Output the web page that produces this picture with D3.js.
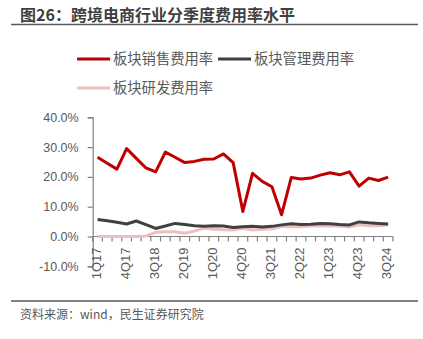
<!DOCTYPE html>
<html><head><meta charset="utf-8">
<script src="https://cdn.jsdelivr.net/npm/d3@7/dist/d3.min.js"></script>
<style>
html,body{margin:0;padding:0;background:#fff;}
svg{display:block;}
</style></head>
<body>
<svg id="chart" width="423" height="339"></svg>
<script>
const quarters = ["1Q17","2Q17","3Q17","4Q17","1Q18","2Q18","3Q18","4Q18","1Q19","2Q19","3Q19","4Q19",
  "1Q20","2Q20","3Q20","4Q20","1Q21","2Q21","3Q21","4Q21","1Q22","2Q22","3Q22","4Q22",
  "1Q23","2Q23","3Q23","4Q23","1Q24","2Q24","3Q24"];
const salesRate = [26.6,24.6,22.6,29.5,26.2,23.0,21.7,28.3,26.6,24.8,25.2,25.9,
  26.0,27.7,24.8,8.4,21.2,18.5,16.7,7.3,19.8,19.3,19.6,20.6,21.4,20.7,21.7,16.9,19.6,18.8,19.9];
const mgmtRate = [5.7,5.3,4.8,4.2,5.2,4.0,2.7,3.5,4.4,4.0,3.6,3.4,
  3.6,3.5,3.0,3.3,3.4,3.2,3.4,3.9,4.3,4.0,4.1,4.4,4.3,4.0,3.9,4.9,4.6,4.4,4.2];
const rdRate = [0,0,0,0,0,0.2,1.4,1.6,1.6,1.1,1.8,2.8,
  2.4,2.3,2.2,2.8,2.2,2.4,2.5,3.4,3.3,3.3,3.5,3.6,3.5,3.4,3.2,3.9,3.6,3.6,3.9];
const yTicks = [-10,0,10,20,30,40];
const xTickLabels = ["1Q17","4Q17","3Q18","2Q19","1Q20","4Q20","3Q21","2Q22","1Q23","4Q23","3Q24"];
const seriesNames = ["板块销售费用率","板块管理费用率","板块研发费用率"];
const titleText = "图26：跨境电商行业分季度费用率水平";
const sourceText = "资料来源：wind，民生证券研究院";

const colors = ["#C00000","#404040","#EDBFC1"];
const series = [
  {name: seriesNames[0], values: salesRate, color: colors[0]},
  {name: seriesNames[1], values: mgmtRate, color: colors[1]},
  {name: seriesNames[2], values: rdRate, color: colors[2]}
];

const svg = d3.select("#chart");
const font = "'Liberation Sans', Arial, 'Noto Sans CJK SC', sans-serif";
const cjk = "'Noto Sans CJK SC', sans-serif";

// title
svg.append("text").attr("x", 20).attr("y", 21)
  .attr("font-family", cjk).attr("font-weight", "bold").attr("font-size", 16)
  .attr("fill", "#3f3f3f").text(titleText);
svg.append("line").attr("x1", 11).attr("x2", 418).attr("y1", 24.5).attr("y2", 24.5)
  .attr("stroke", "#595959").attr("stroke-width", 1.3);

// bottom line and source
svg.append("line").attr("x1", 11).attr("x2", 418).attr("y1", 301).attr("y2", 301)
  .attr("stroke", "#595959").attr("stroke-width", 1.3);
svg.append("text").attr("x", 20).attr("y", 319)
  .attr("font-family", cjk).attr("font-size", 12)
  .attr("fill", "#595959").text(sourceText);

// scales
const x = d3.scaleBand().domain(quarters).range([92.7, 393]);
const y = d3.scaleLinear().domain([-10, 40]).range([266.3, 117.3]);
const cx = q => x(q) + x.bandwidth() / 2;

// y axis
const yAxis = d3.axisLeft(y).tickValues(yTicks).tickSize(5).tickFormat(d => d.toFixed(1) + "%");
const gy = svg.append("g").attr("transform", "translate(92.7,0)").call(yAxis);
gy.select(".domain").attr("stroke", "#7f7f7f").attr("stroke-width", 1.2);
gy.selectAll(".tick line").attr("stroke", "#7f7f7f").attr("stroke-width", 1.2);
gy.selectAll(".tick text").attr("x", -14).attr("font-family", font).attr("font-size", 12.5)
  .attr("fill", "#595959");

// x axis at zero line: ticks between categories
const xb = d3.scaleLinear().domain([0, quarters.length]).range([92.7, 393]);
const gx = svg.append("g").attr("transform", `translate(0,${y(0)})`);
gx.append("line").attr("x1", 92.7).attr("x2", 393).attr("stroke", "#7f7f7f").attr("stroke-width", 1.2);
gx.selectAll("line.tk").data(d3.range(quarters.length + 1)).join("line").attr("class", "tk")
  .attr("x1", d => xb(d)).attr("x2", d => xb(d)).attr("y1", 0).attr("y2", 5)
  .attr("stroke", "#7f7f7f").attr("stroke-width", 1.2);
gx.selectAll("text").data(xTickLabels).join("text")
  .attr("transform", d => `translate(${cx(d) - 1.5},11) rotate(-90)`)
  .attr("text-anchor", "end").attr("dy", "0.35em")
  .attr("font-family", font).attr("font-size", 13).attr("fill", "#595959")
  .text(d => d);

// lines (draw pink first, then grey, then red)
const line = d3.line().x((d, i) => cx(quarters[i])).y(d => y(d));
[series[2], series[1], series[0]].forEach(s => {
  svg.append("path").datum(s.values).attr("d", line)
    .attr("fill", "none").attr("stroke", s.color).attr("stroke-width", 3)
    .attr("stroke-linejoin", "round");
});

// legend
const legendItems = [
  {s: series[0], lx: 77, ly: 59},
  {s: series[1], lx: 218, ly: 59},
  {s: series[2], lx: 77, ly: 88}
];
const lg = svg.append("g");
legendItems.forEach(it => {
  lg.append("line").attr("x1", it.lx).attr("x2", it.lx + 33).attr("y1", it.ly).attr("y2", it.ly)
    .attr("stroke", it.s.color).attr("stroke-width", 3);
  lg.append("text").attr("x", it.lx + 36).attr("y", it.ly + 5)
    .attr("font-family", cjk).attr("font-size", 14.3).attr("fill", "#595959")
    .text(it.s.name);
});
</script>
</body></html>
